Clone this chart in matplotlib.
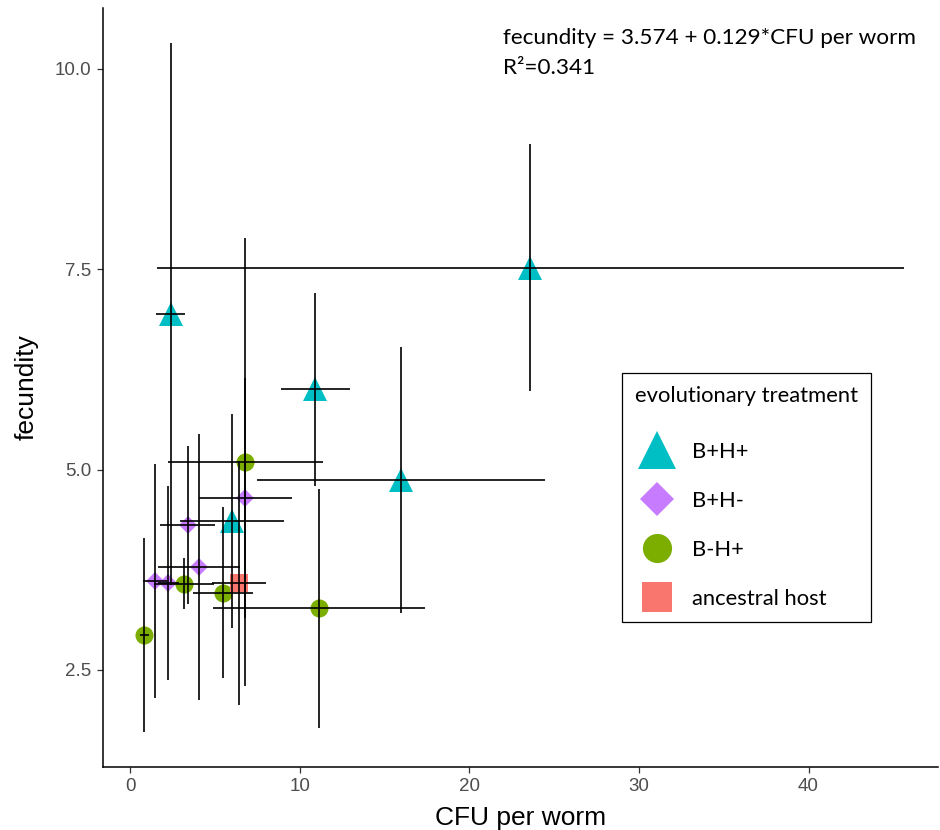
import matplotlib
matplotlib.use("Agg")
import matplotlib.pyplot as plt
from matplotlib.lines import Line2D

# ---- data ----
groups = ["B+H+", "B+H-", "B-H+", "ancestral host"]

bhp_cfu = [2.40, 10.93, 15.98, 23.60, 6.03]
bhp_cfu_err = [0.85, 2.03, 8.50, 22.00, 3.07]
bhp_fec = [6.94, 6.00, 4.87, 7.52, 4.355]
bhp_fec_err = [3.38, 1.20, 1.66, 1.545, 1.335]

bhm_cfu = [6.80, 3.40, 4.07, 1.46, 2.26]
bhm_cfu_err = [2.73, 1.63, 2.41, 0.72, 0.60]
bhm_fec = [4.646, 4.309, 3.789, 3.610, 3.585]
bhm_fec_err = [1.50, 0.98, 1.66, 1.46, 1.21]

bmh_cfu = [6.80, 3.16, 5.48, 11.12, 0.85]
bmh_cfu_err = [4.59, 1.76, 1.79, 6.24, 0.27]
bmh_fec = [5.095, 3.577, 3.465, 3.27, 2.933]
bmh_fec_err = [2.80, 0.32, 1.07, 1.49, 1.21]

anc_cfu = [6.41]
anc_cfu_err = [1.60]
anc_fec = [3.582]
anc_fec_err = [1.52]

x_ticks = [0, 10, 20, 30, 40]
y_ticks = [2.5, 5.0, 7.5, 10.0]
y_tick_labels = ["2.5", "5.0", "7.5", "10.0"]

equation = "fecundity = 3.574 + 0.129*CFU per worm"
r2_text = "R\u00b2=0.341"

# ---- styling ----
colors = {"B+H+": "#00BFC4", "B+H-": "#C77CFF", "B-H+": "#7CAE00", "ancestral host": "#F8766D"}
markers = {"B+H+": "^", "B+H-": "D", "B-H+": "o", "ancestral host": "s"}
msizes = {"B+H+": 17, "B+H-": 9, "B-H+": 13, "ancestral host": 13}
leg_msizes = {"B+H+": 28, "B+H-": 17.5, "B-H+": 21, "ancestral host": 21}

series = {
    "B+H+": (bhp_cfu, bhp_cfu_err, bhp_fec, bhp_fec_err),
    "B+H-": (bhm_cfu, bhm_cfu_err, bhm_fec, bhm_fec_err),
    "B-H+": (bmh_cfu, bmh_cfu_err, bmh_fec, bmh_fec_err),
    "ancestral host": (anc_cfu, anc_cfu_err, anc_fec, anc_fec_err),
}

plt.rcParams['font.family'] = ['Liberation Sans', 'DejaVu Sans']

fig = plt.figure(figsize=(9.4, 8.3), dpi=100)
ax = fig.add_axes([0.1093, 0.0763, 0.8887, 0.9141])

for g in groups:
    cx, cxe, fy, fye = series[g]
    ax.plot(cx, fy, linestyle='none', marker=markers[g], markersize=msizes[g],
            color=colors[g], markeredgewidth=0, zorder=2)
for g in groups:
    cx, cxe, fy, fye = series[g]
    ax.errorbar(cx, fy, xerr=cxe, yerr=fye, fmt='none', ecolor='black',
                elinewidth=1.2, capsize=0, zorder=3)

ax.set_xlim(-1.61, 47.64)
ax.set_ylim(1.293, 10.76)
ax.set_xticks(x_ticks)
ax.set_yticks(y_ticks)
ax.set_yticklabels(y_tick_labels)
for s in ['top', 'right']:
    ax.spines[s].set_visible(False)
for s in ['left', 'bottom']:
    ax.spines[s].set_linewidth(1.1)
    ax.spines[s].set_color('black')
ax.tick_params(axis='both', direction='out', length=4, width=0.9, color='#333333',
               labelcolor='#4D4D4D', labelsize=13.5, pad=4)

ax.set_xlabel("CFU per worm", fontsize=19, labelpad=8)
ax.set_ylabel("fecundity", fontsize=19, labelpad=12)

ax.text(503 / 940, 1 - 44 / 830, equation, transform=fig.transFigure, fontsize=16.2,
        family=['Lato', 'DejaVu Sans'], va='baseline', ha='left')
ax.text(503 / 940, 1 - 74 / 830, r2_text, transform=fig.transFigure, fontsize=16.2,
        family=['Lato', 'DejaVu Sans'], va='baseline', ha='left')

handles = [Line2D([], [], linestyle='none', marker=markers[g], markersize=leg_msizes[g],
                  color=colors[g], markeredgewidth=0) for g in groups]
leg = fig.legend(handles, groups,
                 loc='upper left', bbox_to_anchor=(622 / 940, 1 - 373 / 830),
                 title="evolutionary treatment",
                 prop={'family': ['Lato', 'DejaVu Sans'], 'size': 15.8},
                 title_fontproperties={'family': ['Lato', 'DejaVu Sans'], 'size': 15.8},
                 frameon=True, fancybox=False, edgecolor='black', framealpha=1,
                 borderpad=0.6, labelspacing=1.32, handlelength=1.95, handletextpad=0.62,
                 borderaxespad=0)
leg.get_frame().set_linewidth(0.9)
leg._legend_box.align = "left"
leg._legend_box.sep = 1.32 * 15.8 + 5

fig.savefig("out.png", dpi=100)
